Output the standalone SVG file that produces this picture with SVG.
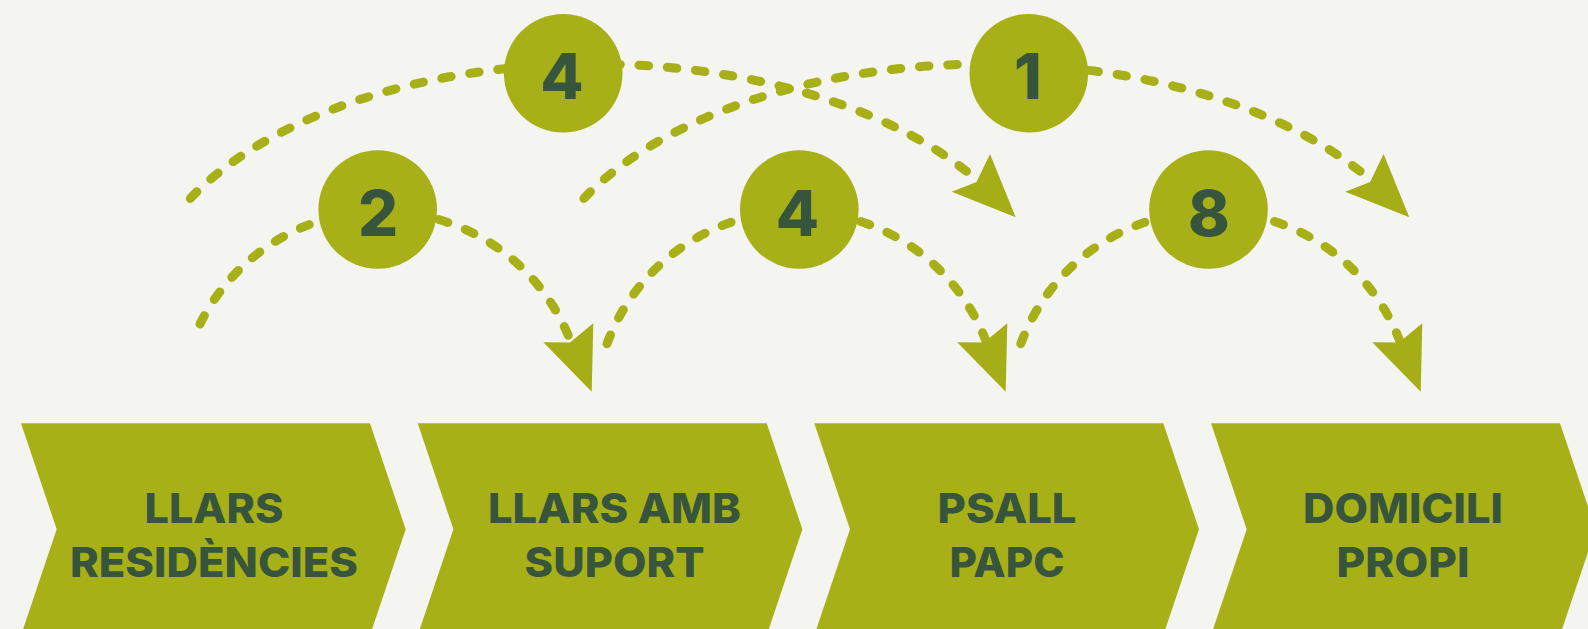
<svg xmlns="http://www.w3.org/2000/svg" width="1588" height="629" viewBox="0 0 1588 629">
  <style>
    .bg { fill: #F4F5F0; }
    .chev { fill: #A8B017; }
    .lbl { font-family: "Inter", "Lato", "Liberation Sans", sans-serif; font-weight: 800; font-size: 41px; fill: #37553D; text-anchor: middle; }
    .num { font-family: "Inter", "Lato", "Liberation Sans", sans-serif; font-weight: 800; font-size: 63px; fill: #37553D; text-anchor: middle; }
    .badge { fill: #A8B017; }
    .arc { fill: none; stroke: #A8B017; stroke-width: 9; stroke-linecap: round; stroke-dasharray: 9.5 18.8; }
    .head { fill: #A5AD17; }
  </style>
  <rect class="bg" x="0" y="0" width="1588" height="629"/>

  <g id="stage-llars-residencies">
    <polygon class="chev" points="21,423.3 370,423.3 405.7,529.3 370,635.3 21,635.3 56.7,529.3"/>
    <text class="lbl" x="214" y="523" textLength="139" lengthAdjust="spacingAndGlyphs">LLARS</text>
    <text class="lbl" x="214" y="577" textLength="288" lengthAdjust="spacingAndGlyphs">RESIDÈNCIES</text>
  </g>
  <g id="stage-llars-amb-suport">
    <polygon class="chev" points="417.7,423.3 766.7,423.3 802.4,529.3 766.7,635.3 417.7,635.3 453.4,529.3"/>
    <text class="lbl" x="614.5" y="523" textLength="253" lengthAdjust="spacingAndGlyphs">LLARS AMB</text>
    <text class="lbl" x="614.5" y="577" textLength="180" lengthAdjust="spacingAndGlyphs">SUPORT</text>
  </g>
  <g id="stage-psall-papc">
    <polygon class="chev" points="814.3,423.3 1163.3,423.3 1199,529.3 1163.3,635.3 814.3,635.3 850,529.3"/>
    <text class="lbl" x="1007" y="523" textLength="139" lengthAdjust="spacingAndGlyphs">PSALL</text>
    <text class="lbl" x="1007" y="577" textLength="115" lengthAdjust="spacingAndGlyphs">PAPC</text>
  </g>
  <g id="stage-domicili-propi">
    <polygon class="chev" points="1211,423.3 1560,423.3 1595.7,529.3 1560,635.3 1211,635.3 1246.7,529.3"/>
    <text class="lbl" x="1403" y="523" textLength="200" lengthAdjust="spacingAndGlyphs">DOMICILI</text>
    <text class="lbl" x="1403" y="577" textLength="133" lengthAdjust="spacingAndGlyphs">PROPI</text>
  </g>

  <g id="connectors">
    <path class="arc" d="M 190.3 198.5 A 455 251 0 0 1 977 180"/>
    <polygon class="head" points="990,154 1015.7,217.3 951.7,191.7 976.5,182"/>
    <path class="arc" d="M 583.9 198.5 A 455 251 0 0 1 1370.6 180"/>
    <polygon class="head" points="1383.6,154 1409.3,217.3 1345.3,191.7 1370.1,182"/>
    <path class="arc" d="M 200 324 A 202.5 202.5 0 0 1 571 342.3"/>
    <polygon class="head" points="593.3,323.3 591.7,391.7 543.3,342.3 570,342.5"/>
    <path class="arc" d="M 607 343.7 A 202.5 202.5 0 0 1 986.5 342.3"/>
    <polygon class="head" points="1007.3,323.3 1005.7,391.7 957.3,342.3 984,342.5"/>
    <path class="arc" d="M 1020.8 343.7 A 202.5 202.5 0 0 1 1400.3 342.3"/>
    <polygon class="head" points="1422.3,323.3 1420.7,391.7 1372.3,342.3 1399,342.5"/>
  </g>

  <g id="badge-4-top">
    <circle class="badge" cx="563.2" cy="73.2" r="59.3"/>
    <text class="num" x="562" y="99">4</text>
  </g>
  <g id="badge-1">
    <circle class="badge" cx="1028.8" cy="73.2" r="59.3"/>
    <text class="num" x="1028" y="99">1</text>
  </g>
  <g id="badge-2">
    <circle class="badge" cx="377.7" cy="209.5" r="59.3"/>
    <text class="num" x="378" y="235.5">2</text>
  </g>
  <g id="badge-4-bottom">
    <circle class="badge" cx="799.3" cy="209.5" r="59.3"/>
    <text class="num" x="797.5" y="235.5">4</text>
  </g>
  <g id="badge-8">
    <circle class="badge" cx="1208.5" cy="209.5" r="59.3"/>
    <text class="num" x="1209" y="235.5">8</text>
  </g>
</svg>
